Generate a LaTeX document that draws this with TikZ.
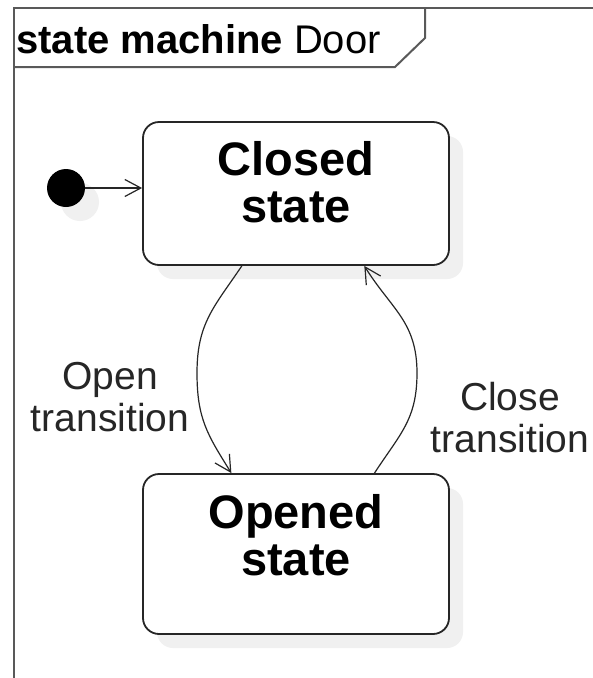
\documentclass[tikz,border=0pt]{standalone}
\usepackage{fontspec}
\setmainfont{Liberation Sans}
\usetikzlibrary{arrows.meta,calc,shadows}
\begin{document}
\begin{tikzpicture}[x=1pt,y=-1pt,
  frameline/.style={draw=black!65,line width=2pt},
  softshadow/.style={drop shadow={shadow xshift=14pt,shadow yshift=-14pt,fill=black!6,opacity=1}},
  statebox/.style={draw=black!85,line width=1.8pt,fill=white,rounded corners=16pt,
    minimum width=306pt,inner sep=0pt,softshadow},
  statetext/.style={font=\bfseries\fontsize{47}{47}\selectfont,align=center,inner sep=0pt,anchor=base},
  trlabel/.style={font=\fontsize{39}{42}\selectfont,text=black!85,align=center,inner sep=0pt,anchor=base},
  trans/.style={draw=black!85,line width=1.2pt,
    -{Straight Barb[length=16pt,width=17pt,line width=1.2pt]}}]

\useasboundingbox (0,0) rectangle (593,678);
\fill[white] (0,0) rectangle (593,678);

% diagram frame with its name tab
\draw[frameline] (593,8) -- (14,8) -- (14,690);
\draw[frameline] (14,67) -- (395,67) -- (425,38) -- (425,8);
\node[anchor=base west,inner sep=0pt,font=\fontsize{40}{40}\selectfont] (title) at (16,53)
  {\textbf{state machine} Door};

% states (the base anchor of a two-line node sits on its last line)
\node[statebox,minimum height=143pt] (closed) at (296,193.5) {};
\node[statebox,minimum height=160pt] (opened) at (296,554) {};
\node[statetext] (closedname) at (296,222) {Closed\\state};
\node[statetext] (openedname) at (296,575) {Opened\\state};

% initial pseudo-state
\node[circle,fill=black,minimum size=38pt,inner sep=0pt,softshadow] (init) at (66,188) {};
\draw[trans] (init) -- (init -| closed.west);

% transitions
\coordinate (openmid) at (197,373);
\coordinate (closemid) at (417,373);
\draw[trans] ($(closed.south west)!0.324!(closed.south east)$) to[out=236,in=90,looseness=1.1] (openmid)
  to[out=270,in=122,looseness=1.1] ($(opened.north west)!0.29!(opened.north east)$);
\draw[trans] ($(opened.north west)!0.755!(opened.north east)$) to[out=57,in=270,looseness=1.1] (closemid)
  to[out=90,in=302,looseness=1.1] ($(closed.south west)!0.722!(closed.south east)$);

\node[trlabel] (openlbl) at (110,431) {Open\\transition};
\node[trlabel] (closelbl) at (510,452) {Close\\transition};
\end{tikzpicture}
\end{document}
